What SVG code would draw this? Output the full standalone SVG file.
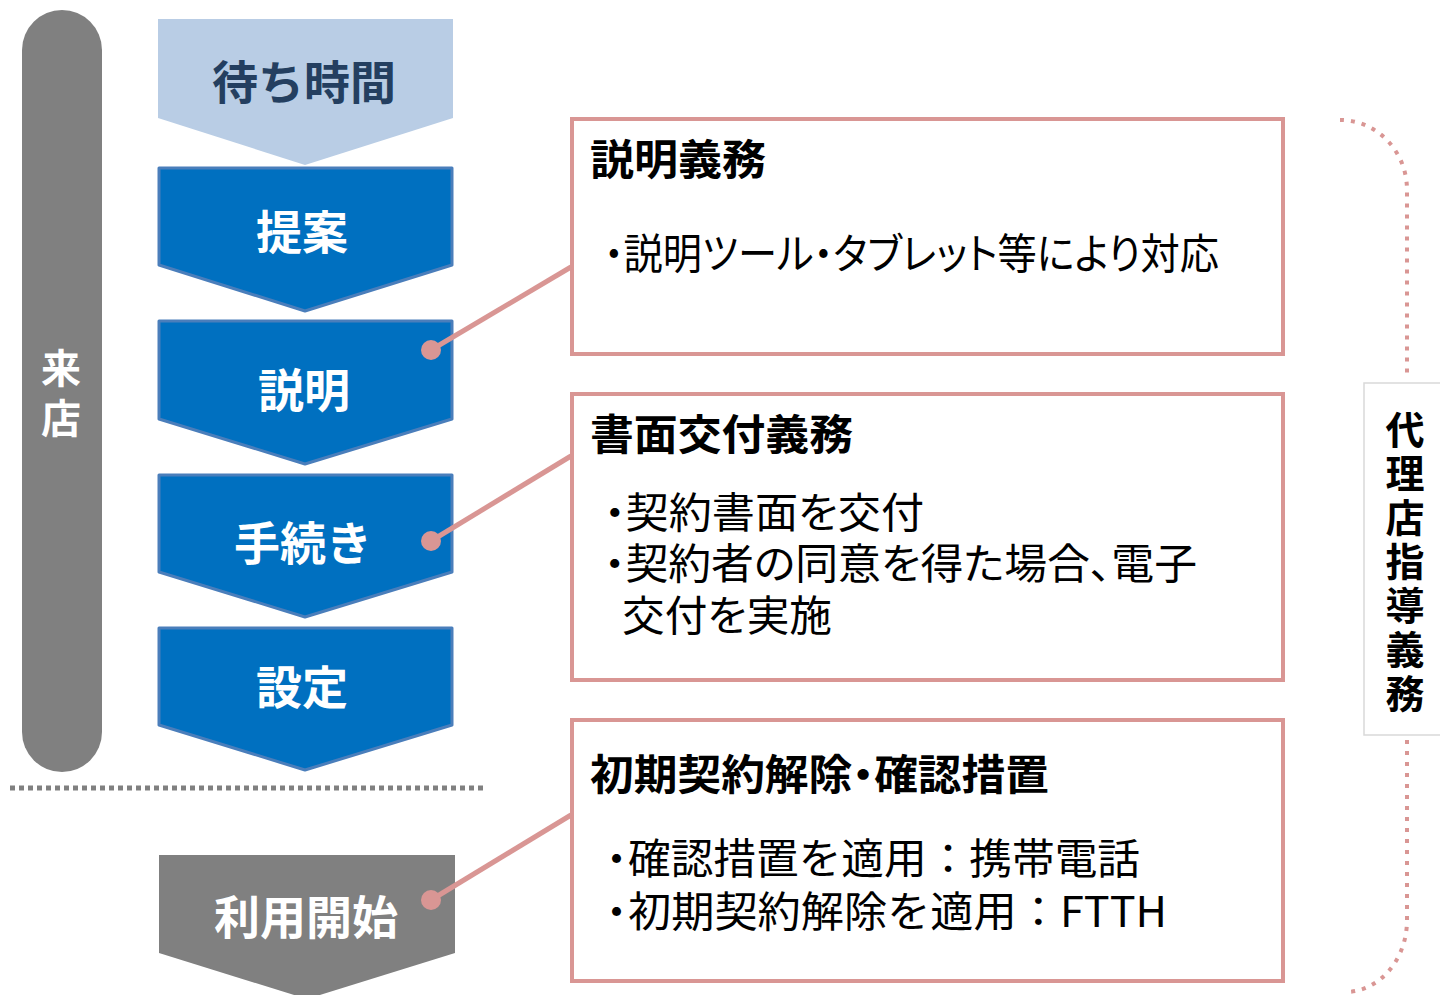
<svg xmlns="http://www.w3.org/2000/svg" width="1440" height="995" viewBox="0 0 1440 995">
<style>
.jp{font-family:"Noto Sans CJK JP","Noto Sans",sans-serif}
.chev{stroke:#4A7EBB;stroke-width:3;stroke-linejoin:round;fill:#0070C0}
.chevt{font-size:46px;font-weight:bold;fill:#fff;text-anchor:middle;dominant-baseline:central}
.box{fill:#fff;stroke:#D99694;stroke-width:4}
.title{font-size:42px;font-weight:bold;fill:#000}
.bul{font-size:42px;fill:#000}
.palt{font-feature-settings:"palt"}
.conn{stroke:#D99694;stroke-width:5;fill:none}
.dot{fill:#D99694}
</style>
<rect width="1440" height="995" fill="#fff"/>

<g id="raiten">
<rect x="22" y="10" width="80" height="762" rx="40" fill="#808080"/>
<text class="jp" x="61" y="348" font-size="40" font-weight="bold" fill="#fff" writing-mode="vertical-rl" letter-spacing="10">来店</text>
</g>

<g id="machi">
<polygon points="158,19 453,19 453,118 305,165 158,118" fill="#B9CDE5"/>
<text class="jp chevt" x="304" y="79" style="fill:#243F60">待ち時間</text>
</g>
<g id="teian">
<polygon class="chev" points="159,168 452,168 452,265 305,311 159,265"/>
<text class="jp chevt" x="302" y="229">提案</text>
</g>
<g id="setsumei">
<polygon class="chev" points="159,321 452,321 452,419 305,464 159,419"/>
<text class="jp chevt" x="304" y="387">説明</text>
</g>
<g id="tetsuzuki">
<polygon class="chev" points="159,475 452,475 452,572 305,617 159,572"/>
<text class="jp chevt" x="303" y="540">手続き</text>
</g>
<g id="settei">
<polygon class="chev" points="159,628 452,628 452,725 305,770 159,725"/>
<text class="jp chevt" x="302" y="684">設定</text>
</g>

<line x1="10" y1="788" x2="487" y2="788" stroke="#808080" stroke-width="5" stroke-dasharray="5 4"/>

<g id="riyou">
<polygon points="159,855 455,855 455,953 307,999 159,953" fill="#808080"/>
<text class="jp chevt" x="306" y="914">利用開始</text>
</g>

<g id="box1">
<rect class="box" x="572" y="119" width="711" height="235"/>
<text class="jp title" x="590" y="175" textLength="176" lengthAdjust="spacingAndGlyphs">説明義務</text>
<text class="jp bul palt" x="604" y="269" textLength="615" lengthAdjust="spacingAndGlyphs">・説明ツール・タブレット等により対応</text>
</g>
<g id="box2">
<rect class="box" x="572" y="394" width="711" height="286"/>
<text class="jp title" x="590" y="450" textLength="263" lengthAdjust="spacingAndGlyphs">書面交付義務</text>
<text class="jp bul palt"><tspan x="604" y="528" textLength="320" lengthAdjust="spacingAndGlyphs">・契約書面を交付</tspan><tspan x="604" y="579" textLength="593" lengthAdjust="spacingAndGlyphs">・契約者の同意を得た場合、電子</tspan><tspan x="622" y="631" textLength="210" lengthAdjust="spacingAndGlyphs">交付を実施</tspan></text>
</g>
<g id="box3">
<rect class="box" x="572" y="720" width="711" height="261"/>
<text class="jp title palt" x="590" y="790" textLength="459" lengthAdjust="spacingAndGlyphs">初期契約解除・確認措置</text>
<text class="jp bul"><tspan class="palt" x="606" y="874">・</tspan><tspan x="628" y="874" textLength="512" lengthAdjust="spacingAndGlyphs">確認措置を適用：携帯電話</tspan><tspan class="palt" x="606" y="927">・</tspan><tspan x="628" y="927" textLength="539" lengthAdjust="spacingAndGlyphs">初期契約解除を適用：FTTH</tspan></text>
</g>

<g id="connectors">
<line class="conn" x1="431" y1="350" x2="571" y2="267"/>
<circle class="dot" cx="431" cy="350" r="10"/>
<line class="conn" x1="431" y1="541" x2="571" y2="456"/>
<circle class="dot" cx="431" cy="541" r="10"/>
<line class="conn" x1="431" y1="900" x2="571" y2="815"/>
<circle class="dot" cx="431" cy="900" r="10"/>
<path d="M1340,120 A67,70 0 0 1 1407,190 L1407,378 M1407,740 L1407,918 A62,72 0 0 1 1345,992" fill="none" stroke="#D99694" stroke-width="4" stroke-dasharray="4 7"/>
</g>

<g id="dairiten">
<rect x="1364" y="383" width="80" height="352" fill="#fff" stroke="#D9D9D9" stroke-width="1.5"/>
<text class="jp" x="1405" y="410" font-size="39" font-weight="bold" fill="#000" writing-mode="vertical-rl" letter-spacing="5">代理店指導義務</text>
</g>
</svg>
